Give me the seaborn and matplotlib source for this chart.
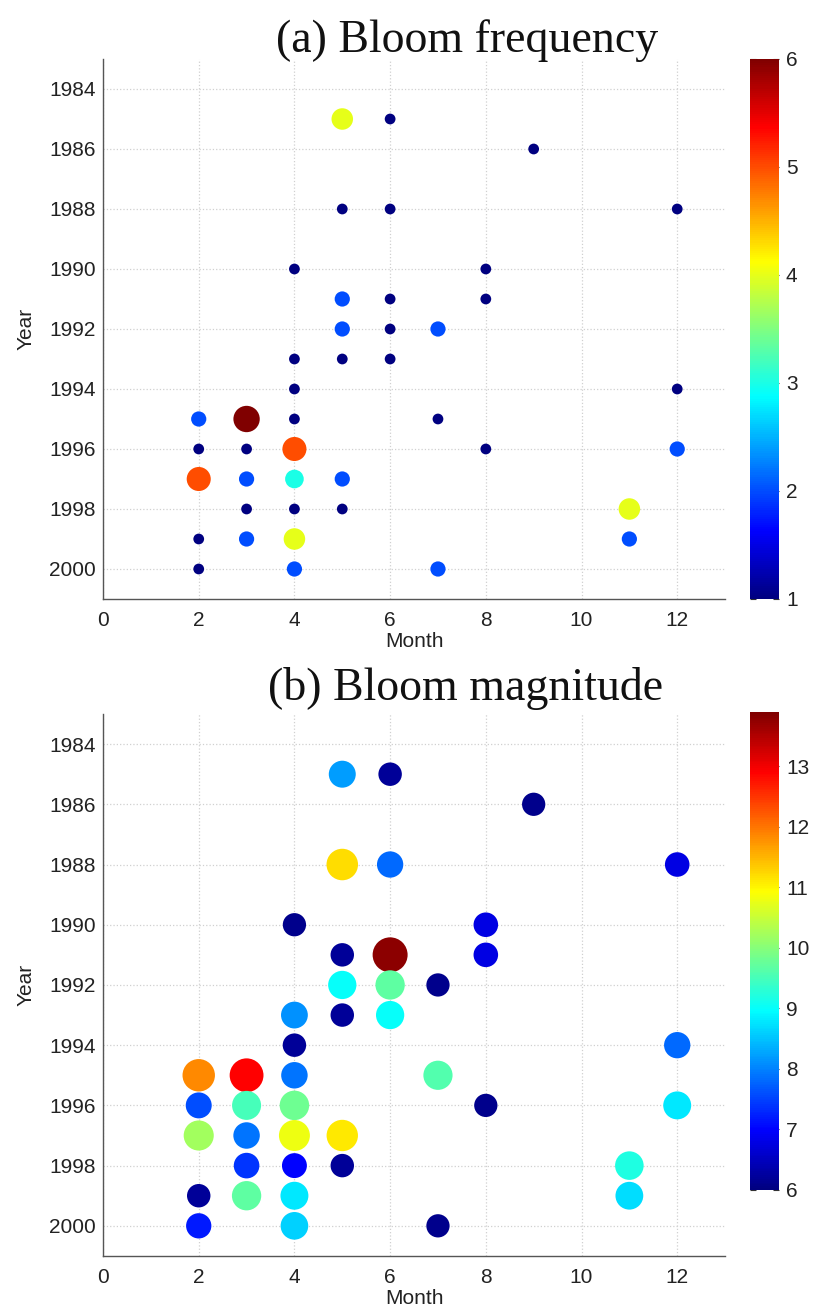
import numpy as np
import pandas as pd
import matplotlib
matplotlib.use("Agg")
import matplotlib.pyplot as plt
import seaborn as sns
from matplotlib.colors import Normalize, LinearSegmentedColormap
from matplotlib.cm import ScalarMappable

# ---- data ----
months = [5, 6, 9, 5, 6, 12, 4, 8, 5, 6, 8, 5, 6, 7, 4, 5, 6, 4, 12,
          2, 3, 4, 7, 2, 3, 4, 8, 12, 2, 3, 4, 5, 3, 4, 5, 11, 2, 3, 4, 11, 2, 4, 7]
years = [1985, 1985, 1986, 1988, 1988, 1988, 1990, 1990, 1991, 1991, 1991,
         1992, 1992, 1992, 1993, 1993, 1993, 1994, 1994,
         1995, 1995, 1995, 1995, 1996, 1996, 1996, 1996, 1996,
         1997, 1997, 1997, 1997, 1998, 1998, 1998, 1998,
         1999, 1999, 1999, 1999, 2000, 2000, 2000]
frequency = [4, 1, 1, 1, 1, 1, 1, 1, 2, 1, 1, 2, 1, 2, 1, 1, 1, 1, 1,
             2, 6, 1, 1, 1, 1, 5, 1, 2, 5, 2, 3, 2, 1, 1, 1, 4, 1, 2, 4, 2, 1, 2, 2]
magnitude = [8.2, 6.2, 6.1, 11.2, 7.8, 6.8, 6.1, 6.8, 6.2, 13.8, 6.8,
             9.0, 9.7, 6.1, 8.1, 6.2, 9.0, 6.2, 7.8,
             11.85, 12.9, 7.9, 9.6, 7.6, 9.5, 9.8, 6.1, 8.8,
             10.2, 7.9, 10.8, 11.1, 7.4, 7.0, 6.2, 9.2,
             6.2, 9.7, 8.8, 8.7, 7.2, 8.6, 6.1]
freq_ticks = [1, 2, 3, 4, 5, 6]
mag_ticks = [6, 7, 8, 9, 10, 11, 12, 13]
year_ticks = list(range(1984, 2001, 2))
month_ticks = list(range(0, 13, 2))

df = pd.DataFrame({"Month": months, "Year": years,
                   "freq": frequency, "mag": magnitude})

sns.set_style("white")
plt.rcParams["font.family"] = ["Liberation Sans", "DejaVu Sans"]

# MATLAB-style jet colormap
cmap = LinearSegmentedColormap.from_list(
    "mjet",
    [(0.0, (0, 0, 0.5)), (0.125, (0, 0, 1)), (0.375, (0, 1, 1)),
     (0.625, (1, 1, 0)), (0.875, (1, 0, 0)), (1.0, (0.5, 0, 0))], N=256)

fig = plt.figure(figsize=(8.19, 13.11), dpi=100)
ax1 = fig.add_axes([0.1258, 0.5431, 0.7595, 0.4119])
ax2 = fig.add_axes([0.1258, 0.0420, 0.7595, 0.4134])
cax1 = fig.add_axes([0.9158, 0.5431, 0.0354, 0.4119])
cax2 = fig.add_axes([0.9158, 0.0923, 0.0354, 0.3646])

fnorm = (1, 6)
mnorm = (6, 13.9)

sns.scatterplot(data=df, x="Month", y="Year", hue="freq", palette=cmap,
                hue_norm=fnorm, size="freq", sizes=(60, 360), size_norm=fnorm,
                linewidth=0, legend=False, ax=ax1, zorder=3)
sns.scatterplot(data=df, x="Month", y="Year", hue="mag", palette=cmap,
                hue_norm=mnorm, size="mag", sizes=(46 * 6, 46 * 13.9), size_norm=mnorm,
                linewidth=0, legend=False, ax=ax2, zorder=3)

for ax in (ax1, ax2):
    ax.set_xlim(0, 13)
    ax.set_ylim(2001, 1983)
    ax.set_xticks(month_ticks)
    ax.set_yticks(year_ticks)
    ax.grid(True, linestyle=":", color="#d0d0d0", linewidth=0.9)
    ax.set_axisbelow(True)
    for s in ("top", "right"):
        ax.spines[s].set_visible(False)
    for s in ("left", "bottom"):
        ax.spines[s].set_color("#555555")
        ax.spines[s].set_linewidth(1.0)
    ax.tick_params(direction="in", length=4, width=0.8, color="#555555",
                   labelsize=15, labelcolor="#222222")
    ax.tick_params(axis="x", pad=9)
    ax.tick_params(axis="y", pad=5)
    ax.set_xlabel("Month", fontsize=15, color="#222222", labelpad=1)
    ax.set_ylabel("Year", fontsize=15, color="#222222", labelpad=10)

for cax, nrm, ticks in ((cax1, fnorm, freq_ticks), (cax2, mnorm, mag_ticks)):
    sm = ScalarMappable(norm=Normalize(*nrm), cmap=cmap)
    cb = fig.colorbar(sm, cax=cax, ticks=ticks)
    cb.outline.set_visible(False)
    cax.tick_params(direction="in", length=4, width=0.8, color="#333333",
                    labelsize=15, labelcolor="#222222", left=True, right=True, pad=5)

fig.text(0.570, 0.9600, "(a) Bloom frequency", ha="center", va="baseline",
         fontsize=33, family=["Liberation Serif", "DejaVu Serif"], color="#111111")
fig.text(0.569, 0.4660, "(b) Bloom magnitude", ha="center", va="baseline",
         fontsize=33, family=["Liberation Serif", "DejaVu Serif"], color="#111111")

fig.savefig("out.png", dpi=100)
